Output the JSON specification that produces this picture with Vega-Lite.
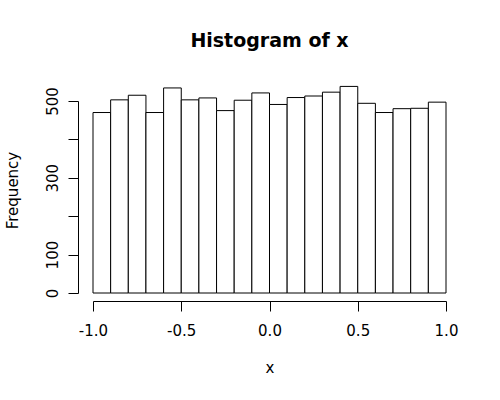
{
  "$schema": "https://vega.github.io/schema/vega-lite/v6.json",
  "autosize": {"type": "none"},
  "width": 353,
  "height": 192,
  "padding": {"left": 93, "top": 101, "right": 54, "bottom": 107},
  "background": "white",
  "config": {"view": {"stroke": null}, "font": "DejaVu Sans"},
  "title": {"text": "Histogram of x", "fontSize": 19, "fontWeight": "bold", "font": "DejaVu Sans", "color": "black", "anchor": "middle", "frame": "group", "baseline": "alphabetic", "offset": 20},
  "data": {"values": [
    {"start": -1.0, "end": -0.9, "count": 470},
    {"start": -0.9, "end": -0.8, "count": 503},
    {"start": -0.8, "end": -0.7, "count": 515},
    {"start": -0.7, "end": -0.6, "count": 470},
    {"start": -0.6, "end": -0.5, "count": 534},
    {"start": -0.5, "end": -0.4, "count": 503},
    {"start": -0.4, "end": -0.3, "count": 508},
    {"start": -0.3, "end": -0.2, "count": 475},
    {"start": -0.2, "end": -0.1, "count": 502},
    {"start": -0.1, "end": 0.0, "count": 521},
    {"start": 0.0, "end": 0.1, "count": 491},
    {"start": 0.1, "end": 0.2, "count": 509},
    {"start": 0.2, "end": 0.3, "count": 513},
    {"start": 0.3, "end": 0.4, "count": 523},
    {"start": 0.4, "end": 0.5, "count": 538},
    {"start": 0.5, "end": 0.6, "count": 494},
    {"start": 0.6, "end": 0.7, "count": 470},
    {"start": 0.7, "end": 0.8, "count": 480},
    {"start": 0.8, "end": 0.9, "count": 481},
    {"start": 0.9, "end": 1.0, "count": 497}
  ]},
  "mark": {"type": "rect", "fill": "white", "stroke": "black", "strokeWidth": 1},
  "encoding": {
    "x": {
      "field": "start", "type": "quantitative",
      "scale": {"domain": [-1, 1], "nice": false, "zero": false},
      "axis": {
        "values": [-1, -0.5, 0, 0.5, 1],
        "labelExpr": "datum.value < 0 ? '-' + format(-datum.value, '.1f') : format(datum.value, '.1f')",
        "offset": 8, "tickSize": 10, "labelPadding": 12, "labelFontSize": 15, "labelFlush": false,
        "labelColor": "black", "domainColor": "black", "tickColor": "black", "grid": false,
        "title": "x", "titleFontSize": 15, "titleFontWeight": "normal", "titleColor": "black", "titlePadding": 22
      }
    },
    "x2": {"field": "end"},
    "y": {
      "field": "count", "type": "quantitative",
      "scale": {"domain": [0, 500], "nice": false},
      "axis": {
        "values": [0, 100, 200, 300, 400, 500],
        "labelExpr": "datum.value == 200 || datum.value == 400 ? '' : datum.label",
        "offset": 15, "tickSize": 10, "labelPadding": 11, "labelFontSize": 15, "labelAngle": -90,
        "labelAlign": "center", "labelBaseline": "alphabetic",
        "labelColor": "black", "domainColor": "black", "tickColor": "black", "grid": false,
        "title": "Frequency", "titleFontSize": 15, "titleFontWeight": "normal", "titleColor": "black",
        "titleAngle": -90, "titleBaseline": "alphabetic", "titleAlign": "center", "titleX": -61, "titleY": 89
      }
    },
    "y2": {"datum": 0}
  }
}
